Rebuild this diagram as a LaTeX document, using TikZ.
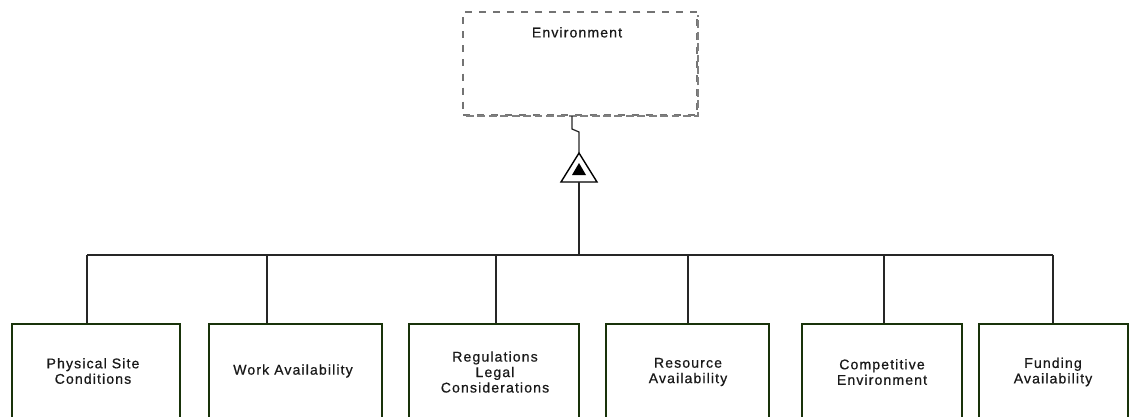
\documentclass[tikz,border=0pt]{standalone}
\usepackage{fontspec}
\setmainfont{Liberation Sans}[LetterSpace=8,FakeBold=0.6]
\begin{document}
\begin{tikzpicture}[x=0.02cm,y=-0.02cm,
  txt/.style={text=black!90, font=\fontsize{8}{8.8}\selectfont, align=center},
  part/.style={draw={rgb,1:red,0.1;green,0.2;blue,0.04}, line width=0.9pt,
    preaction={draw={rgb,1:red,0.62;green,0.8;blue,0.3}, line width=1.5pt, opacity=0.45},
    fill=white, inner sep=0pt, minimum height=110*0.02cm},
  whole/.style={draw=black!55, line width=0.8pt, dash pattern=on 4pt off 4pt,
    fill=white, minimum width=234*0.02cm, minimum height=103*0.02cm, inner sep=0pt},
  shade/.style={draw=black!50, line width=1.5pt, dash pattern=on 4.5pt off 2pt},
  link/.style={draw=black!85, line width=0.7pt}
]
\clip (0,0) rectangle (1135,416);

% parent (environment) with a heavier shaded edge along bottom and right
\node[whole] (env) at (580,63.5) {};
\draw[shade] (466,116) -- (698,116) -- (698,15);
\node[txt, anchor=north] (envlabel) at (577,21) {Environment};

% aggregation triangle
\coordinate (tritop) at (579,153);
\coordinate (tribase) at (579,182);
\draw[line width=0.8pt, fill=white] (561,182) -- (tritop) -- (597,182) -- cycle;
\fill[black] (572,175) -- (579,163) -- (586,175) -- cycle;

% link from the environment down to the triangle
\draw[link] (572,116) -- (572,129) -- (579,132) -- (tritop);

% children (they run on past the lower edge)
\node[part, minimum width=168*0.02cm] (p1) at (96,379) {};
\node[part, minimum width=173*0.02cm] (p2) at (295.5,379) {};
\node[part, minimum width=170*0.02cm] (p3) at (494,379) {};
\node[part, minimum width=163*0.02cm] (p4) at (687.5,379) {};
\node[part, minimum width=160*0.02cm] (p5) at (882,379) {};
\node[part, minimum width=149*0.02cm] (p6) at (1053.5,379) {};

\node[txt] (t1) at (93,371) {Physical Site\\Conditions};
\node[txt] (t2) at (293,371) {Work Availability};
\node[txt] (t3) at (495,372) {Regulations\\Legal\\Considerations};
\node[txt] (t4) at (688,372) {Resource\\Availability};
\node[txt] (t5) at (882,372) {Competitive\\Environment};
\node[txt] (t6) at (1053,372) {Funding\\Availability};

% bus
\coordinate (b1) at (87,255);
\coordinate (b2) at (267,255);
\coordinate (b3) at (496,255);
\coordinate (b4) at (688,255);
\coordinate (b5) at (884,255);
\coordinate (b6) at (1053,255);
\coordinate (bt) at (579,255);
\draw[link] (b1) -- (b6);
\draw[link] (tribase) -- (bt);
\draw[link] (b1) -- (b1 |- p1.north);
\draw[link] (b2) -- (b2 |- p2.north);
\draw[link] (b3) -- (b3 |- p3.north);
\draw[link] (b4) -- (b4 |- p4.north);
\draw[link] (b5) -- (b5 |- p5.north);
\draw[link] (b6) -- (b6 |- p6.north);
\end{tikzpicture}
\end{document}
